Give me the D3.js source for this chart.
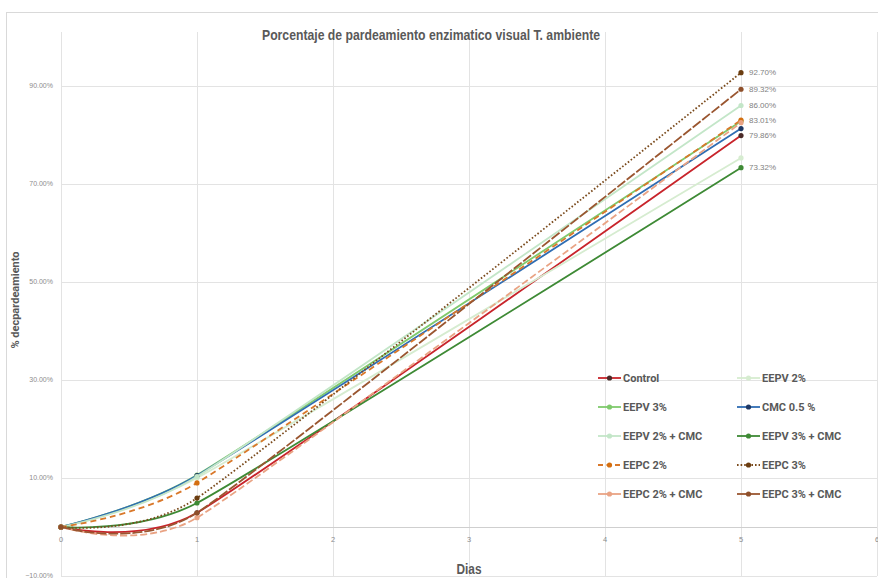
<!DOCTYPE html>
<html><head><meta charset="utf-8">
<script src="https://cdn.jsdelivr.net/npm/d3@7"></script>
<style>
html,body{margin:0;padding:0;background:#fff;}
svg{display:block;}
</style></head>
<body>
<svg id="chart" width="878" height="578"></svg>
<script>
// ---------- data ----------
const days = [0, 1, 5];
const seriesNames = ["Control","EEPV 2%","EEPV 3%","CMC 0.5 %","EEPV 2% + CMC","EEPV 3% + CMC","EEPC 2%","EEPC 3%","EEPC 2% + CMC","EEPC 3% + CMC"];
const control      = [0, 2.9, 79.86];
const eepv2        = [0, 10.0, 75.3];
const eepv3        = [0, 10.6, 82.8];
const cmc05        = [0, 10.5, 81.3];
const eepv2cmc     = [0, 10.3, 86.00];
const eepv3cmc     = [0, 4.9, 73.32];
const eepc2        = [0, 9.0, 83.01];
const eepc3        = [0, 5.9, 92.70];
const eepc2cmc     = [0, 1.9, 82.5];
const eepc3cmc     = [0, 2.9, 89.32];
const seriesValues = [control, eepv2, eepv3, cmc05, eepv2cmc, eepv3cmc, eepc2, eepc3, eepc2cmc, eepc3cmc];
const endLabels    = ["79.86%", null, null, null, "86.00%", "73.32%", "83.01%", "92.70%", null, "89.32%"];
const yTicks = [-10, 10, 30, 50, 70, 90];
const xTicks = [0, 1, 2, 3, 4, 5, 6];

// ---------- styles ----------
const lineColors   = ["#c8242b","#d6ecd0","#7fca6c","#2f6db3","#c3e6c8","#3e8a35","#d9782a","#7a4a1c","#e9a384","#9a5630"];
const markerColors = ["#4a2a28","#d6ecd0","#7fca6c","#1f3864","#c3e6c8","#3e8a35","#d46f10","#6b3d10","#e9a384","#8e4f2a"];
const dashes       = [null,null,null,null,null,null,"6,4","1.6,2","7,3","10,2"];

const svg = d3.select("#chart");
const x = d3.scaleLinear().domain([0, 6]).range([61, 877]);
const y = d3.scaleLinear().domain([-10, 101]).range([576, 32]);

// chart border
svg.append("rect").attr("x", 6.5).attr("y", 12.5).attr("width", 900).attr("height", 600)
  .attr("fill", "none").attr("stroke", "#d9d9d9");

// gridlines
const grid = svg.append("g");
grid.selectAll(".hg").data(yTicks).join("line")
  .attr("x1", x(0)).attr("x2", x(6))
  .attr("y1", d => Math.round(y(d)) + 0.5).attr("y2", d => Math.round(y(d)) + 0.5)
  .attr("stroke", "#e3e3e3").attr("stroke-width", 1);
grid.selectAll(".vg").data(xTicks).join("line")
  .attr("x1", d => Math.round(x(d)) + 0.5).attr("x2", d => Math.round(x(d)) + 0.5)
  .attr("y1", y(101)).attr("y2", y(-10))
  .attr("stroke", "#e3e3e3").attr("stroke-width", 1);
// zero axis line
svg.append("line").attr("x1", x(0)).attr("x2", x(6))
  .attr("y1", Math.round(y(0)) + 0.5).attr("y2", Math.round(y(0)) + 0.5)
  .attr("stroke", "#cfcfcf").attr("stroke-width", 1);

// y tick labels
svg.append("g").selectAll("text").data(yTicks).join("text")
  .attr("x", 53).attr("y", d => y(d)).attr("dy", "0.35em")
  .attr("text-anchor", "end")
  .attr("font-family", "Liberation Sans, Arial, sans-serif").attr("font-size", 7)
  .attr("fill", "#8c8c8c")
  .text(d => d3.format(".2f")(d) + "%");

// x tick labels
svg.append("g").selectAll("text").data(xTicks).join("text")
  .attr("x", d => x(d)).attr("y", y(0) + 15)
  .attr("text-anchor", "middle")
  .attr("font-family", "Liberation Sans, Arial, sans-serif").attr("font-size", 7.5)
  .attr("fill", "#8c8c8c")
  .text(d => d);

// title
svg.append("text").attr("x", 431).attr("y", 40).attr("text-anchor", "middle")
  .attr("font-family", "Liberation Sans, Arial, sans-serif")
  .attr("font-size", 14).attr("font-weight", "bold").attr("fill", "#595959")
  .attr("textLength", 338).attr("lengthAdjust", "spacingAndGlyphs")
  .text("Porcentaje de pardeamiento  enzimatico visual T. ambiente");

// axis titles
svg.append("text").attr("x", 469).attr("y", 574).attr("text-anchor", "middle")
  .attr("font-family", "Liberation Sans, Arial, sans-serif")
  .attr("font-size", 14).attr("font-weight", "bold").attr("fill", "#595959")
  .attr("textLength", 25).attr("lengthAdjust", "spacingAndGlyphs")
  .text("Dias");
svg.append("text").attr("transform", "translate(19,300) rotate(-90)").attr("text-anchor", "middle")
  .attr("font-family", "Roboto, Liberation Sans, sans-serif")
  .attr("font-size", 11).attr("font-weight", "bold").attr("fill", "#595959")
  .text("% decpardeamiento");

// series
const line = d3.line().x(d => x(d[0])).y(d => y(d[1])).curve(d3.curveCardinal.tension(0.5));
const plot = svg.append("g");
seriesValues.forEach((vals, i) => {
  const pts = days.map((d, j) => [d, vals[j]]);
  const g = plot.append("g");
  g.append("path").attr("d", line(pts)).attr("fill", "none")
    .attr("stroke", lineColors[i]).attr("stroke-width", 1.8)
    .attr("stroke-dasharray", dashes[i]);
  g.selectAll("circle").data(pts).join("circle")
    .attr("cx", d => x(d[0])).attr("cy", d => y(d[1])).attr("r", 2.6)
    .attr("fill", markerColors[i]);
  if (endLabels[i]) {
    const last = pts[pts.length - 1];
    g.append("text").attr("x", x(last[0]) + 8).attr("y", y(last[1])).attr("dy", "0.35em")
      .attr("font-family", "Liberation Sans, Arial, sans-serif").attr("font-size", 8)
      .attr("fill", "#7f7f7f").text(endLabels[i]);
  }
});

// legend
const legend = svg.append("g");
seriesNames.forEach((name, i) => {
  const col = i % 2, row = Math.floor(i / 2);
  const lx = col === 0 ? 598 : 737;
  const ly = 378 + row * 29;
  const g = legend.append("g");
  g.append("line").attr("x1", lx).attr("x2", lx + 23).attr("y1", ly).attr("y2", ly)
    .attr("stroke", lineColors[i]).attr("stroke-width", 1.8)
    .attr("stroke-dasharray", dashes[i] === "6,4" ? "5,3.5" : (dashes[i] === "1.6,2" ? "1.6,2" : null));
  g.append("circle").attr("cx", lx + 11.5).attr("cy", ly).attr("r", 2.6).attr("fill", markerColors[i]);
  g.append("text").attr("x", lx + 25).attr("y", ly).attr("dy", "0.35em")
    .attr("font-family", "Roboto, Liberation Sans, sans-serif")
    .attr("font-size", 11).attr("font-weight", "bold").attr("fill", "#595959")
    .text(name);
});
</script>
</body></html>
